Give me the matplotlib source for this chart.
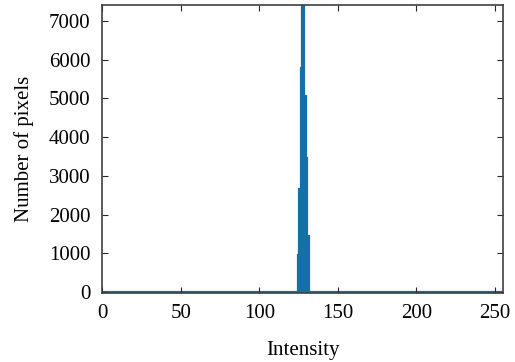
import numpy as np
import matplotlib
matplotlib.use("Agg")
import matplotlib.pyplot as plt

# histogram counts (all other intensity bins are zero)
intensidades = np.arange(256)
nz_bins = [125, 126, 127, 128, 129, 130, 131]
nz_counts = [945, 2650, 5780, 7600, 5050, 3450, 1435]

contagens = np.zeros(256)
for b, c in zip(nz_bins, nz_counts):
    contagens[b] = c

plt.rcParams['font.family'] = ['Liberation Serif', 'DejaVu Serif']

fig = plt.figure(figsize=(5.15, 3.62), dpi=100)
ax = fig.add_axes([0.1977, 0.19, 0.7796, 0.795])

ax.bar(intensidades, contagens, width=1.0, color='#2a86bd',
       edgecolor='#1570a8', linewidth=1.6)

ax.set_xlim(-0.3, 255.5)
ax.set_ylim(-30, 7400)
ax.set_xticks([0, 50, 100, 150, 200, 250])
ax.set_yticks(range(0, 8000, 1000))

ax.set_xlabel('Intensity', fontsize=15, labelpad=13)
ax.set_ylabel('Number of pixels', fontsize=15, labelpad=11)
ax.tick_params(direction='in', top=True, right=True, labelsize=15,
               length=4, width=0.8, color='#262626')
ax.tick_params(axis='x', pad=8)
ax.tick_params(axis='y', pad=8)
for s in ax.spines.values():
    s.set_color('#404040')
    s.set_linewidth(1.2)

fig.savefig('out.png', dpi=100)
